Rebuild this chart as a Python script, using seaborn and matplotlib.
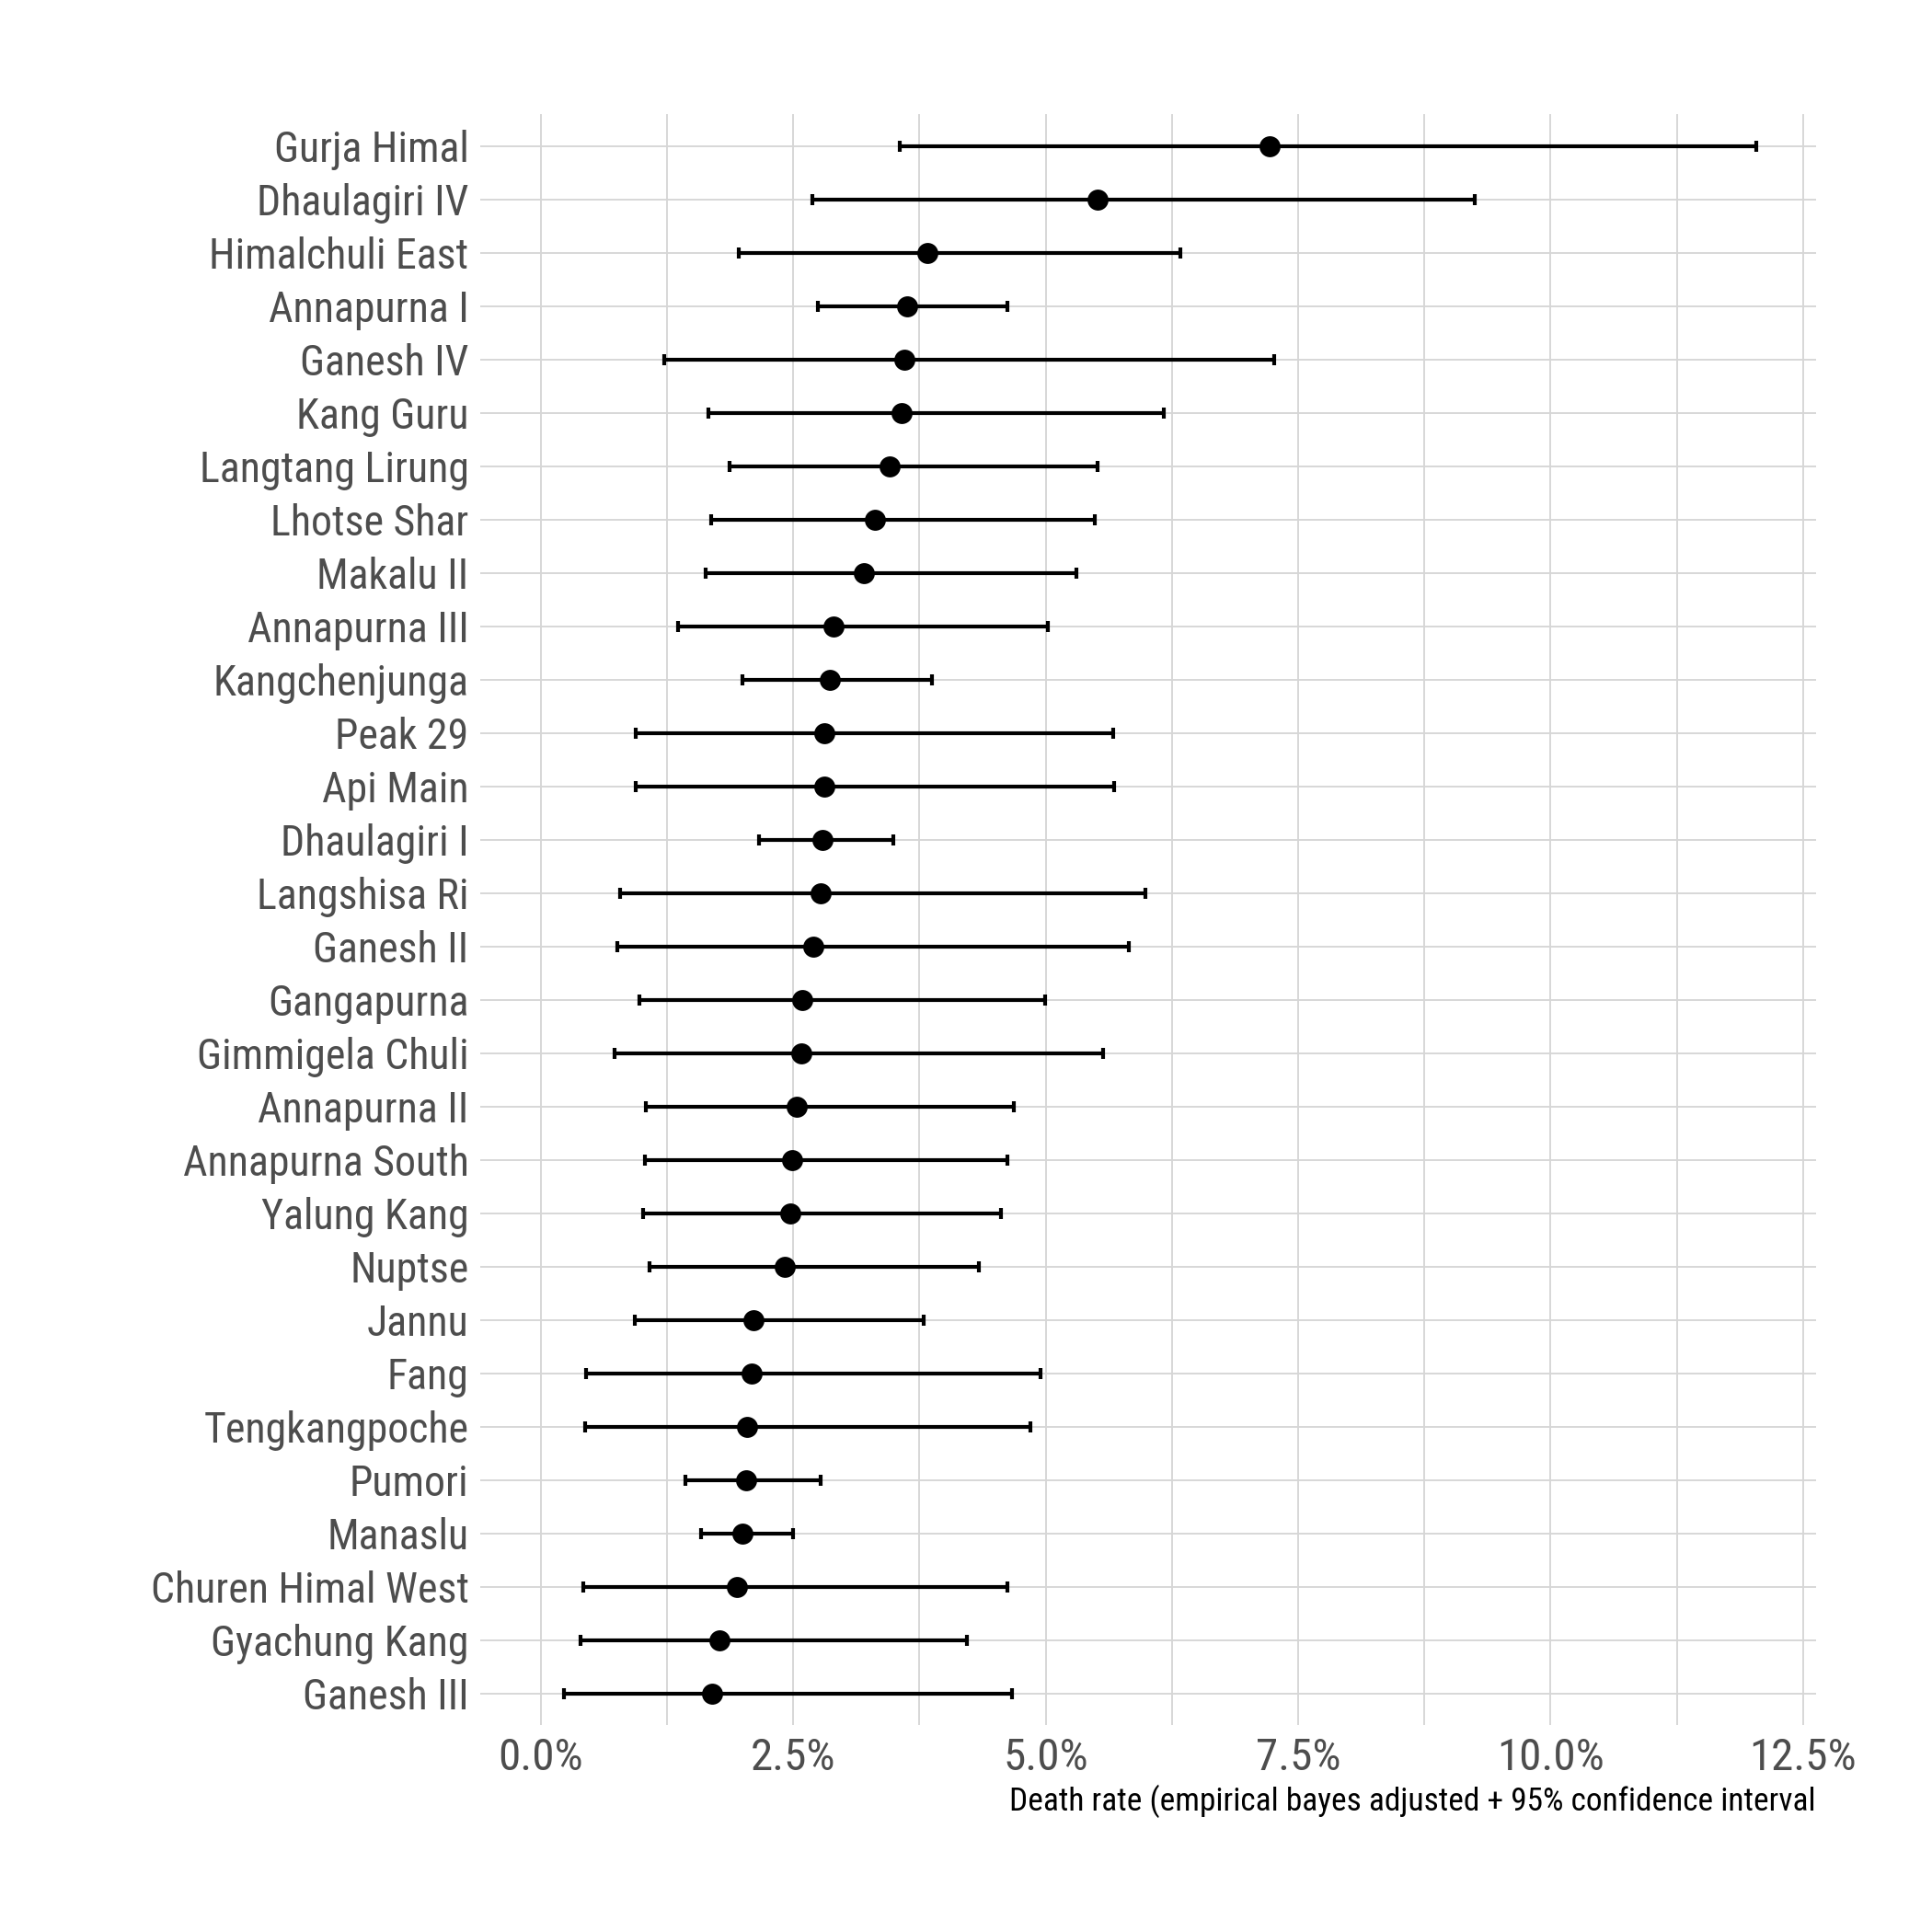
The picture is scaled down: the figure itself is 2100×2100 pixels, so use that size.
import matplotlib.pyplot as plt
from matplotlib.ticker import FixedLocator, FuncFormatter
import seaborn as sns
import numpy as np

# peaks, top to bottom
peaks = ["Gurja Himal", "Dhaulagiri IV", "Himalchuli East", "Annapurna I", "Ganesh IV",
         "Kang Guru", "Langtang Lirung", "Lhotse Shar", "Makalu II", "Annapurna III",
         "Kangchenjunga", "Peak 29", "Api Main", "Dhaulagiri I", "Langshisa Ri",
         "Ganesh II", "Gangapurna", "Gimmigela Chuli", "Annapurna II", "Annapurna South",
         "Yalung Kang", "Nuptse", "Jannu", "Fang", "Tengkangpoche",
         "Pumori", "Manaslu", "Churen Himal West", "Gyachung Kang", "Ganesh III"]

# death rate in percent (empirical bayes) and 95% interval
rate = [7.22, 5.51, 3.83, 3.63, 3.60, 3.57, 3.45, 3.31, 3.20, 2.90,
        2.86, 2.81, 2.81, 2.79, 2.77, 2.70, 2.59, 2.58, 2.53, 2.49,
        2.47, 2.42, 2.11, 2.09, 2.04, 2.03, 2.00, 1.94, 1.77, 1.70]
low = [3.55, 2.69, 1.96, 2.74, 1.22, 1.66, 1.87, 1.69, 1.63, 1.36,
       2.00, 0.94, 0.94, 2.16, 0.78, 0.76, 0.98, 0.73, 1.04, 1.03,
       1.01, 1.08, 0.93, 0.45, 0.44, 1.43, 1.59, 0.42, 0.39, 0.23]
high = [12.04, 9.25, 6.33, 4.62, 7.26, 6.17, 5.51, 5.49, 5.30, 5.02,
        3.87, 5.67, 5.68, 3.49, 5.99, 5.82, 4.99, 5.57, 4.68, 4.62,
        4.56, 4.34, 3.79, 4.95, 4.85, 2.77, 2.50, 4.62, 4.22, 4.67]

sns.set_theme(style="white")
plt.rcParams['font.family'] = ['Roboto Condensed', 'DejaVu Sans']

rate = np.array(rate)
low = np.array(low)
high = np.array(high)
pos = np.arange(len(peaks))

fig = plt.figure(figsize=(7, 7), dpi=300)
ax = fig.add_axes([0.2486, 0.107, 0.6914, 0.834])

ax.errorbar(rate, pos, xerr=[rate - low, high - rate], fmt='none', ecolor='black',
            elinewidth=1.0, capsize=1.5, capthick=1.0, zorder=3)
sns.scatterplot(x=rate, y=pos, color='black', s=30, linewidth=0, ax=ax, zorder=4)

ax.set_xlim(-0.6, 12.63)
ax.set_ylim(len(peaks) - 0.4, -0.6)
ax.set_yticks(pos)
ax.set_yticklabels(peaks)
ax.xaxis.set_major_locator(FixedLocator([0, 2.5, 5, 7.5, 10, 12.5]))
ax.xaxis.set_minor_locator(FixedLocator([1.25, 3.75, 6.25, 8.75, 11.25]))
ax.xaxis.set_major_formatter(FuncFormatter(lambda v, p: "%.1f%%" % v))

ax.grid(which='major', axis='both', color='#d6d6d6', linewidth=0.45)
ax.grid(which='minor', axis='x', color='#d6d6d6', linewidth=0.45)
ax.set_axisbelow(True)
for s in ax.spines.values():
    s.set_visible(False)

ax.tick_params(axis='y', length=0, pad=3, labelsize=11.0, labelcolor='#4d4d4d')
ax.tick_params(axis='x', which='both', length=0, pad=3, labelsize=11.8, labelcolor='#4d4d4d')
ax.set_ylabel("")
ax.set_xlabel("Death rate (empirical bayes adjusted + 95% confidence interval",
              fontsize=8.5, color='black', loc='right', labelpad=1.5)

plt.savefig('out.png', dpi=300)
